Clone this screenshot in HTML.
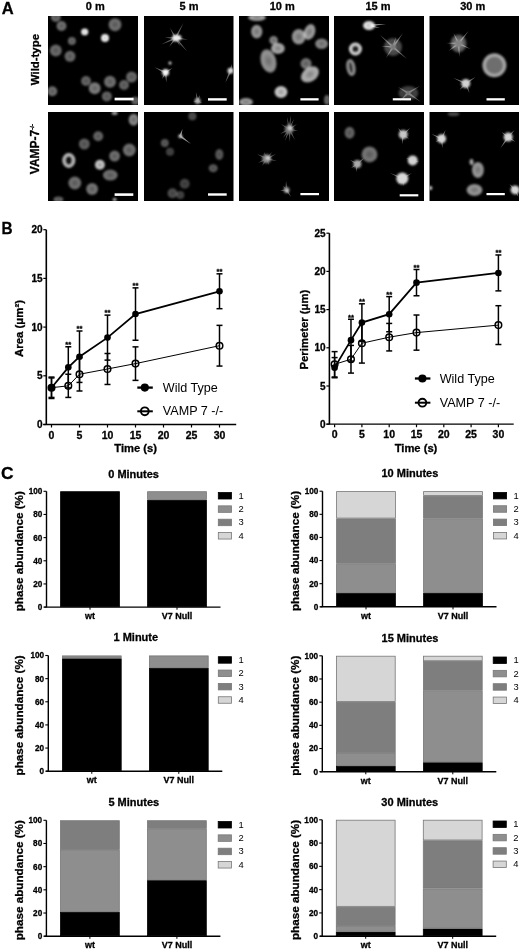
<!DOCTYPE html>
<html><head><meta charset="utf-8"><title>Figure</title>
<style>
html,body{margin:0;padding:0;background:#fff;}
body{width:520px;height:949px;overflow:hidden;font-family:"Liberation Sans",sans-serif;}
svg.fig{display:block;position:absolute;left:0;top:0;will-change:transform;}
svg.fig text{font-family:"Liberation Sans",sans-serif;}
text[font-weight="bold"]{stroke:#000;stroke-width:0.3px;}
</style></head>
<body>
<svg class="fig" width="520" height="949" viewBox="0 0 520 949">
<text transform="translate(1.7,13.7)" font-size="16.5" font-weight="bold" >A</text>
<text x="95.2" y="9.7" font-size="11" font-weight="bold" text-anchor="middle" >0 m</text>
<text x="189" y="9.7" font-size="11" font-weight="bold" text-anchor="middle" >5 m</text>
<text x="282.2" y="9.7" font-size="11" font-weight="bold" text-anchor="middle" >10 m</text>
<text x="378" y="9.7" font-size="11" font-weight="bold" text-anchor="middle" >15 m</text>
<text x="472.7" y="9.7" font-size="11" font-weight="bold" text-anchor="middle" >30 m</text>
<text transform="translate(38.9,59.6) rotate(-90)" font-size="11.4" font-weight="bold" text-anchor="middle" >Wild-type</text>
<text transform="translate(39.1,174.2) rotate(-90)" font-size="12" font-weight="bold" >VAMP-7<tspan font-size="6" dy="-5">-/-</tspan></text>
<defs><radialGradient id="cg"><stop offset="0" stop-color="#fff" stop-opacity="0.72"/><stop offset="0.7" stop-color="#fff" stop-opacity="1"/><stop offset="1" stop-color="#fff" stop-opacity="0.85"/></radialGradient><filter id="bl" x="-50%" y="-50%" width="200%" height="200%"><feGaussianBlur stdDeviation="1.2"/></filter><filter id="bl2" x="-50%" y="-50%" width="200%" height="200%"><feGaussianBlur stdDeviation="0.5"/></filter></defs>
<g transform="translate(48,16)">
<rect x="0" y="0" width="90" height="89" fill="#000"/>
<svg x="0" y="0" width="90" height="89" overflow="hidden">
<g filter="url(#bl)">
<ellipse cx="7.8" cy="0.9" rx="5" ry="5" fill="url(#cg)" opacity="0.43"/>
<ellipse cx="13.5" cy="10" rx="5" ry="5" fill="url(#cg)" opacity="0.45"/>
<ellipse cx="36.7" cy="15.9" rx="3.6" ry="3.4" fill="url(#cg)" opacity="1"/>
<ellipse cx="67" cy="8.7" rx="6.5" ry="6.5" fill="url(#cg)" opacity="0.45"/>
<ellipse cx="57" cy="22" rx="4" ry="4" fill="url(#cg)" opacity="1"/>
<ellipse cx="23.9" cy="25" rx="4" ry="4" fill="url(#cg)" opacity="0.43"/>
<ellipse cx="7.8" cy="34.6" rx="6" ry="6" fill="url(#cg)" opacity="0.43"/>
<ellipse cx="22" cy="40.3" rx="5.5" ry="5.5" fill="url(#cg)" opacity="0.43"/>
<ellipse cx="38" cy="65" rx="5" ry="5" fill="url(#cg)" opacity="0.41"/>
<ellipse cx="46.7" cy="72.3" rx="6" ry="6" fill="url(#cg)" opacity="0.5"/>
<ellipse cx="62" cy="65.7" rx="6" ry="6" fill="url(#cg)" opacity="0.45"/>
<ellipse cx="83.6" cy="61" rx="5.5" ry="5.5" fill="url(#cg)" opacity="0.43"/>
<ellipse cx="76" cy="69" rx="5" ry="5" fill="url(#cg)" opacity="0.41"/>
<ellipse cx="58.8" cy="80.4" rx="5" ry="5" fill="url(#cg)" opacity="0.41"/>
<ellipse cx="4.3" cy="75.3" rx="5" ry="5" fill="url(#cg)" opacity="0.45"/>
<ellipse cx="87.4" cy="84.8" rx="4" ry="4" fill="url(#cg)" opacity="0.41"/>
</g>
</svg>
<rect x="66.6" y="81.7" width="19" height="2.7" fill="#fff"/>
</g>
<g transform="translate(48,112)">
<rect x="0" y="0" width="90" height="89" fill="#000"/>
<svg x="0" y="0" width="90" height="89" overflow="hidden">
<g filter="url(#bl)">
<ellipse cx="66.6" cy="0.9" rx="3" ry="2" fill="url(#cg)" opacity="0.65"/>
<ellipse cx="85.6" cy="7.8" rx="5" ry="6" fill="url(#cg)" opacity="0.54"/>
<ellipse cx="50.2" cy="24.2" rx="5" ry="5" fill="url(#cg)" opacity="0.41"/>
<ellipse cx="36.3" cy="32" rx="5.5" ry="5.5" fill="url(#cg)" opacity="0.39"/>
<ellipse cx="81.3" cy="38" rx="6.5" ry="6.5" fill="url(#cg)" opacity="0.45"/>
<ellipse cx="66.6" cy="44.1" rx="5.5" ry="5.5" fill="url(#cg)" opacity="0.45"/>
<ellipse cx="51.9" cy="52.8" rx="5" ry="5" fill="url(#cg)" opacity="0.8"/>
<ellipse cx="62.3" cy="63.1" rx="7.5" ry="5.5" fill="url(#cg)" opacity="0.45"/>
<ellipse cx="26.8" cy="71" rx="6.5" ry="6.5" fill="url(#cg)" opacity="0.45"/>
<ellipse cx="44.1" cy="77" rx="6" ry="6" fill="url(#cg)" opacity="0.47"/>
<ellipse cx="10.4" cy="87.4" rx="5" ry="3" fill="url(#cg)" opacity="0.41"/>
<ellipse cx="66.6" cy="87.5" rx="2" ry="1.5" fill="url(#cg)" opacity="0.86"/>
<ellipse cx="20.8" cy="48.4" rx="5.0" ry="6.0" fill="#141414" stroke="#bebebe" stroke-width="3"/>
</g>
</svg>
<rect x="66.6" y="81.3" width="18.7" height="2.6" fill="#fff"/>
</g>
<g transform="translate(144,16)">
<rect x="0" y="0" width="89.5" height="89" fill="#000"/>
<svg x="0" y="0" width="89.5" height="89" overflow="hidden">
<polygon points="32.58,22.6 39.4,6.9 30.62,21.6" fill="#5f5f5f" filter="url(#bl2)"/>
<polygon points="30.77,22.82 43.3,35.5 32.43,21.38" fill="#5f5f5f" filter="url(#bl2)"/>
<polygon points="31.49,23.19 44,23.4 31.71,21.01" fill="#5f5f5f" filter="url(#bl2)"/>
<polygon points="31.15,21.1 17.3,28.5 32.05,23.1" fill="#5f5f5f" filter="url(#bl2)"/>
<polygon points="30.72,21.44 25,31 32.48,22.76" fill="#5f5f5f" filter="url(#bl2)"/>
<polygon points="32.56,21.56 26,12.1 30.64,22.64" fill="#5f5f5f" filter="url(#bl2)"/>
<polygon points="31.65,21 20.8,21.6 31.55,23.2" fill="#5f5f5f" filter="url(#bl2)"/>
<polygon points="30.64,22.64 36,30 32.56,21.56" fill="#5f5f5f" filter="url(#bl2)"/>
<polygon points="22.06,55.4 10.4,51.2 21.14,57.4" fill="#696969" filter="url(#bl2)"/>
<polygon points="20.5,56.49 22.5,66.8 22.7,56.31" fill="#696969" filter="url(#bl2)"/>
<polygon points="22.19,57.33 28.5,52 21.01,55.47" fill="#696969" filter="url(#bl2)"/>
<polygon points="21.98,55.37 15,54 21.22,57.43" fill="#696969" filter="url(#bl2)"/>
<polygon points="20.63,55.87 18,63 22.57,56.93" fill="#696969" filter="url(#bl2)"/>
<polygon points="85.49,54.27 81.3,66.8 87.51,55.13" fill="#646464" filter="url(#bl2)"/>
<polygon points="87.57,54.94 88,48 85.43,54.46" fill="#646464" filter="url(#bl2)"/>
<polygon points="54.68,84.79 51.9,76.3 52.52,85.21" fill="#5f5f5f" filter="url(#bl2)"/>
<polygon points="53.35,83.93 49.3,86 53.85,86.07" fill="#5f5f5f" filter="url(#bl2)"/>
<polygon points="53.14,86 58,87 54.06,84" fill="#5f5f5f" filter="url(#bl2)"/>
<polygon points="54.62,85.41 56,79 52.58,84.59" fill="#5f5f5f" filter="url(#bl2)"/>
<g filter="url(#bl)">
<ellipse cx="26" cy="46.9" rx="1.5" ry="1.5" fill="url(#cg)" opacity="1"/>
<ellipse cx="33" cy="21.8" rx="4.5" ry="3" fill="url(#cg)" opacity="0.97"/>
<circle cx="31.6" cy="22.1" r="3.4" fill="#ebebeb"/>
<circle cx="21.6" cy="56.4" r="3.4" fill="#f5f5f5"/>
<circle cx="86.5" cy="54.7" r="3" fill="#d7d7d7"/>
<circle cx="53.6" cy="85" r="3" fill="#afafaf"/>
</g>
</svg>
<rect x="64" y="82.2" width="18.7" height="2.4" fill="#fff"/>
</g>
<g transform="translate(144,112)">
<rect x="0" y="0" width="89.5" height="89" fill="#000"/>
<svg x="0" y="0" width="89.5" height="89" overflow="hidden">
<polygon points="37.35,24.52 38.5,17 35.25,23.88" fill="#969696" filter="url(#bl2)"/>
<polygon points="35.65,25.09 47,32 36.95,23.31" fill="#969696" filter="url(#bl2)"/>
<g filter="url(#bl)">
<ellipse cx="48.4" cy="4.3" rx="4" ry="4" fill="url(#cg)" opacity="0.32"/>
<ellipse cx="20.8" cy="31.1" rx="4" ry="4" fill="url(#cg)" opacity="0.37"/>
<ellipse cx="26" cy="39.8" rx="4" ry="4" fill="url(#cg)" opacity="0.28"/>
<ellipse cx="75.3" cy="42.4" rx="4" ry="5.5" fill="url(#cg)" opacity="0.37"/>
<ellipse cx="69.2" cy="56.2" rx="4.5" ry="4" fill="url(#cg)" opacity="0.37"/>
<ellipse cx="40.7" cy="71.8" rx="5" ry="5" fill="url(#cg)" opacity="0.28"/>
<ellipse cx="28.5" cy="81.3" rx="5" ry="5" fill="url(#cg)" opacity="0.32"/>
<ellipse cx="36.3" cy="83" rx="4" ry="4" fill="url(#cg)" opacity="0.28"/>
<circle cx="36.3" cy="24.2" r="2" fill="#bebebe"/>
</g>
</svg>
<rect x="64" y="81.3" width="18.7" height="2.4" fill="#fff"/>
</g>
<g transform="translate(239,16)">
<rect x="0" y="0" width="90" height="89" fill="#000"/>
<svg x="0" y="0" width="90" height="89" overflow="hidden">
<g filter="url(#bl)">
<ellipse cx="18" cy="1.5" rx="9" ry="3.5" fill="url(#cg)" opacity="0.65"/>
<ellipse cx="17.7" cy="15.6" rx="5.7" ry="6.9" fill="url(#cg)" opacity="0.6"/>
<ellipse cx="34.6" cy="24.2" rx="4.3" ry="4.3" fill="url(#cg)" opacity="0.54"/>
<ellipse cx="38.9" cy="32.4" rx="6.9" ry="5.6" fill="url(#cg)" opacity="0.67"/>
<ellipse cx="29.4" cy="45" rx="7.8" ry="12" fill="url(#cg)" opacity="0.58" transform="rotate(-15 29.4 45)"/>
<ellipse cx="59.7" cy="20.8" rx="6.9" ry="7.8" fill="url(#cg)" opacity="0.6"/>
<ellipse cx="70.5" cy="16" rx="5.6" ry="8.2" fill="url(#cg)" opacity="0.63" transform="rotate(20 70.5 16)"/>
<ellipse cx="82.6" cy="27.7" rx="6.5" ry="5.2" fill="url(#cg)" opacity="0.54"/>
<ellipse cx="67" cy="47.6" rx="5.6" ry="5.6" fill="url(#cg)" opacity="0.47"/>
<ellipse cx="71" cy="58.4" rx="10" ry="7" fill="url(#cg)" opacity="0.69" transform="rotate(-35 71 58.4)"/>
<ellipse cx="42" cy="76" rx="6.5" ry="6" fill="url(#cg)" opacity="0.8"/>
<ellipse cx="7" cy="86" rx="7" ry="4" fill="url(#cg)" opacity="0.63"/>
<ellipse cx="88" cy="84" rx="3" ry="5" fill="url(#cg)" opacity="0.43"/>
</g>
</svg>
<rect x="61.4" y="82.2" width="18.2" height="2.3" fill="#fff"/>
</g>
<g transform="translate(239,112)">
<rect x="0" y="0" width="90" height="89" fill="#000"/>
<svg x="0" y="0" width="90" height="89" overflow="hidden">
<polygon points="50.8,16.38 42,12 49.6,18.22" fill="#555555" filter="url(#bl2)"/>
<polygon points="51.28,17.11 48,5 49.12,17.49" fill="#555555" filter="url(#bl2)"/>
<polygon points="51.2,17.76 55,7 49.2,16.84" fill="#555555" filter="url(#bl2)"/>
<polygon points="49.99,18.38 59,19 50.41,16.22" fill="#555555" filter="url(#bl2)"/>
<polygon points="49.23,17.82 56,28 51.17,16.78" fill="#555555" filter="url(#bl2)"/>
<polygon points="49.16,16.93 46,29 51.24,17.67" fill="#555555" filter="url(#bl2)"/>
<polygon points="49.7,16.32 41,22 50.7,18.28" fill="#555555" filter="url(#bl2)"/>
<polygon points="51.29,17.44 52,3 49.11,17.16" fill="#555555" filter="url(#bl2)"/>
<polygon points="49.3,16.66 44,26 51.1,17.94" fill="#555555" filter="url(#bl2)"/>
<polygon points="49.1,17.37 51,30 51.3,17.23" fill="#555555" filter="url(#bl2)"/>
<polygon points="50.82,18.21 58,12 49.58,16.39" fill="#555555" filter="url(#bl2)"/>
<polygon points="28.18,45.71 18,42 27.22,47.69" fill="#555555" filter="url(#bl2)"/>
<polygon points="27.21,45.71 19,51 28.19,47.69" fill="#555555" filter="url(#bl2)"/>
<polygon points="28.2,47.68 37,42 27.2,45.72" fill="#555555" filter="url(#bl2)"/>
<polygon points="27.46,47.77 38,49 27.94,45.63" fill="#555555" filter="url(#bl2)"/>
<polygon points="26.67,47.08 30,53 28.73,46.32" fill="#555555" filter="url(#bl2)"/>
<polygon points="28.72,46.29 25,40 26.68,47.11" fill="#555555" filter="url(#bl2)"/>
<polygon points="26.78,46.1 23,54 28.62,47.3" fill="#555555" filter="url(#bl2)"/>
<polygon points="28.56,47.38 33,40 26.84,46.02" fill="#555555" filter="url(#bl2)"/>
<polygon points="48.7,77.83 47,69 46.5,77.97" fill="#555555" filter="url(#bl2)"/>
<polygon points="47.42,76.81 41,79 47.78,78.99" fill="#555555" filter="url(#bl2)"/>
<polygon points="46.66,78.48 52,85 48.54,77.32" fill="#555555" filter="url(#bl2)"/>
<polygon points="48.41,77.15 44,74 46.79,78.65" fill="#555555" filter="url(#bl2)"/>
<g filter="url(#bl)">
<circle cx="50.2" cy="17.3" r="4.5" fill="#737373"/>
<circle cx="27.7" cy="46.7" r="4.5" fill="#878787"/>
<circle cx="47.6" cy="77.9" r="3" fill="#8c8c8c"/>
<ellipse cx="29" cy="46" rx="2.2" ry="1.6" fill="url(#cg)" opacity="0.84"/>
<ellipse cx="51" cy="16" rx="2.2" ry="2.2" fill="url(#cg)" opacity="0.75"/>
<ellipse cx="48" cy="79" rx="1.6" ry="1.6" fill="url(#cg)" opacity="0.76"/>
</g>
</svg>
<rect x="61.4" y="81" width="18.6" height="2.2" fill="#fff"/>
</g>
<g transform="translate(334,16)">
<rect x="0" y="0" width="90" height="89" fill="#000"/>
<svg x="0" y="0" width="90" height="89" overflow="hidden">
<polygon points="35.1,10.6 52,8 34.9,8.4" fill="#a0a0a0" filter="url(#bl2)"/>
<polygon points="34.76,10.57 46,12 35.24,8.43" fill="#a0a0a0" filter="url(#bl2)"/>
<polygon points="59.75,30.19 46,19 58.25,31.81" fill="#696969" filter="url(#bl2)"/>
<polygon points="59.9,31.64 69,17 58.1,30.36" fill="#696969" filter="url(#bl2)"/>
<polygon points="58.28,31.84 73,43 59.72,30.16" fill="#696969" filter="url(#bl2)"/>
<polygon points="58.07,30.41 52,42 59.93,31.59" fill="#696969" filter="url(#bl2)"/>
<polygon points="60.05,31.32 62,21 57.95,30.68" fill="#696969" filter="url(#bl2)"/>
<polygon points="59.09,29.9 47,30 58.91,32.1" fill="#696969" filter="url(#bl2)"/>
<polygon points="74.57,76.06 64,71 73.43,77.94" fill="#5a5a5a" filter="url(#bl2)"/>
<polygon points="74.55,77.95 86,70 73.45,76.05" fill="#5a5a5a" filter="url(#bl2)"/>
<polygon points="73.37,77.9 87,86 74.63,76.1" fill="#5a5a5a" filter="url(#bl2)"/>
<polygon points="73.22,76.22 66,85 74.78,77.78" fill="#5a5a5a" filter="url(#bl2)"/>
<g filter="url(#bl)">
<ellipse cx="35" cy="9.5" rx="6" ry="4.5" fill="url(#cg)" opacity="0.93"/>
<ellipse cx="74.4" cy="77" rx="10" ry="7" fill="url(#cg)" opacity="0.26"/>
<ellipse cx="59" cy="31" rx="9" ry="9" fill="url(#cg)" opacity="0.3"/>
<ellipse cx="21.4" cy="33" rx="5.0" ry="5.0" fill="#282828" stroke="#d7d7d7" stroke-width="3"/>
<ellipse cx="16.9" cy="51.5" rx="3.25" ry="7.25" fill="#323232" stroke="#969696" stroke-width="2.5" transform="rotate(-10 16.9 51.5)"/>
<circle cx="35" cy="9.5" r="2" fill="#c8c8c8"/>
<circle cx="59" cy="31" r="3" fill="#787878"/>
<circle cx="74" cy="77" r="2" fill="#6e6e6e"/>
</g>
</svg>
<rect x="58.8" y="82.2" width="18.2" height="2.2" fill="#fff"/>
</g>
<g transform="translate(334,112)">
<rect x="0" y="0" width="90" height="89" fill="#000"/>
<svg x="0" y="0" width="90" height="89" overflow="hidden">
<polygon points="70.06,21.81 64,16 68.34,23.19" fill="#787878" filter="url(#bl2)"/>
<polygon points="69.96,23.3 76,16 68.44,21.7" fill="#787878" filter="url(#bl2)"/>
<polygon points="68.11,22.36 68,32 70.29,22.64" fill="#787878" filter="url(#bl2)"/>
<polygon points="68.53,23.37 75,27 69.87,21.63" fill="#787878" filter="url(#bl2)"/>
<polygon points="23.92,51.03 16,48 22.88,52.97" fill="#6e6e6e" filter="url(#bl2)"/>
<polygon points="24.14,52.81 30,46 22.66,51.19" fill="#6e6e6e" filter="url(#bl2)"/>
<polygon points="22.32,51.81 22,60 24.48,52.19" fill="#6e6e6e" filter="url(#bl2)"/>
<polygon points="22.82,51.07 17,56 23.98,52.93" fill="#6e6e6e" filter="url(#bl2)"/>
<polygon points="79.07,47.36 72,46 78.33,49.44" fill="#646464" filter="url(#bl2)"/>
<polygon points="78.43,49.47 85,50 78.97,47.33" fill="#646464" filter="url(#bl2)"/>
<polygon points="68.76,65.6 56,61 67.84,67.6" fill="#646464" filter="url(#bl2)"/>
<polygon points="68.85,67.55 78,61 67.75,65.65" fill="#646464" filter="url(#bl2)"/>
<polygon points="67.23,66.85 70,74 69.37,66.35" fill="#646464" filter="url(#bl2)"/>
<polygon points="67.44,65.91 64,72 69.16,67.29" fill="#646464" filter="url(#bl2)"/>
<g filter="url(#bl)">
<ellipse cx="15.6" cy="20.8" rx="5" ry="6" fill="url(#cg)" opacity="0.41"/>
<ellipse cx="35.5" cy="42.4" rx="8" ry="8" fill="url(#cg)" opacity="0.47"/>
<circle cx="69.2" cy="22.5" r="4.5" fill="#c8c8c8"/>
<circle cx="23.4" cy="52" r="4" fill="#aaaaaa"/>
<circle cx="78.7" cy="48.4" r="5" fill="#d2d2d2"/>
<circle cx="68.3" cy="66.6" r="6" fill="#d7d7d7"/>
</g>
</svg>
<rect x="65.7" y="82.2" width="18.6" height="2.2" fill="#fff"/>
</g>
<g transform="translate(429.5,16)">
<rect x="0" y="0" width="89.5" height="89" fill="#000"/>
<svg x="0" y="0" width="89.5" height="89" overflow="hidden">
<polygon points="29.05,26.4 17,27 28.95,28.6" fill="#6e6e6e" filter="url(#bl2)"/>
<polygon points="29.86,28.19 39,15 28.14,26.81" fill="#6e6e6e" filter="url(#bl2)"/>
<polygon points="27.9,27.58 30,41 30.1,27.42" fill="#6e6e6e" filter="url(#bl2)"/>
<polygon points="28.54,28.5 41,33 29.46,26.5" fill="#6e6e6e" filter="url(#bl2)"/>
<polygon points="29.99,27.03 24,17 28.01,27.97" fill="#6e6e6e" filter="url(#bl2)"/>
<polygon points="28.34,26.62 19,35 29.66,28.38" fill="#6e6e6e" filter="url(#bl2)"/>
<polygon points="36.75,66.5 24,62 35.85,68.5" fill="#6e6e6e" filter="url(#bl2)"/>
<polygon points="36.91,68.41 46,61 35.69,66.59" fill="#6e6e6e" filter="url(#bl2)"/>
<polygon points="35.27,67.9 40,77 37.33,67.1" fill="#6e6e6e" filter="url(#bl2)"/>
<polygon points="35.51,66.73 30,74 37.09,68.27" fill="#6e6e6e" filter="url(#bl2)"/>
<g filter="url(#bl)">
<ellipse cx="29" cy="27.5" rx="8" ry="9" fill="url(#cg)" opacity="0.37"/>
<ellipse cx="64.9" cy="49.3" rx="10.25" ry="10.25" fill="#6e6e6e" stroke="#a5a5a5" stroke-width="3.5" transform="rotate(-20 64.9 49.3)"/>
<circle cx="29" cy="27.5" r="4" fill="#828282"/>
<circle cx="36.3" cy="67.5" r="4.5" fill="#d2d2d2"/>
</g>
</svg>
<rect x="57" y="82.2" width="18.3" height="2.3" fill="#fff"/>
</g>
<g transform="translate(429.5,112)">
<rect x="0" y="0" width="89.5" height="89" fill="#000"/>
<svg x="0" y="0" width="89.5" height="89" overflow="hidden">
<polygon points="12.57,25.81 2,22 11.63,27.79" fill="#787878" filter="url(#bl2)"/>
<polygon points="13.11,27.25 16,18 11.09,26.35" fill="#787878" filter="url(#bl2)"/>
<polygon points="11.01,26.91 13,36 13.19,26.69" fill="#787878" filter="url(#bl2)"/>
<polygon points="11.59,25.83 6,30 12.61,27.77" fill="#787878" filter="url(#bl2)"/>
<polygon points="79.37,24.22 72,20 78.03,25.98" fill="#787878" filter="url(#bl2)"/>
<polygon points="79.52,25.83 85,18 77.88,24.37" fill="#787878" filter="url(#bl2)"/>
<polygon points="77.8,24.47 71,36 79.6,25.73" fill="#787878" filter="url(#bl2)"/>
<polygon points="78.09,26.01 86,30 79.31,24.19" fill="#787878" filter="url(#bl2)"/>
<polygon points="86.4,77.14 80,72 84.8,78.66" fill="#787878" filter="url(#bl2)"/>
<polygon points="84.61,78.38 89,85 86.59,77.42" fill="#787878" filter="url(#bl2)"/>
<g filter="url(#bl)">
<ellipse cx="48.4" cy="58" rx="6" ry="8" fill="url(#cg)" opacity="0.6"/>
<ellipse cx="45" cy="77.9" rx="8" ry="6" fill="url(#cg)" opacity="0.6"/>
<ellipse cx="24" cy="2" rx="6" ry="2" fill="url(#cg)" opacity="0.32"/>
<ellipse cx="42" cy="50" rx="2" ry="3" fill="url(#cg)" opacity="0.73"/>
<circle cx="12.1" cy="26.8" r="4.5" fill="#d7d7d7"/>
<circle cx="78.7" cy="25.1" r="4.5" fill="#d7d7d7"/>
<circle cx="85.6" cy="77.9" r="4.5" fill="#d7d7d7"/>
<circle cx="0.9" cy="76" r="2" fill="#c8c8c8"/>
</g>
</svg>
<rect x="57" y="81" width="18.3" height="2.2" fill="#fff"/>
</g>
<text transform="translate(1.5,233.6) scale(0.93,1)" font-size="16.5" font-weight="bold" >B</text>
<line x1="46.3" y1="229.7" x2="46.3" y2="424.5" stroke="#000" stroke-width="1.6"/>
<line x1="43.3" y1="424.5" x2="46.3" y2="424.5" stroke="#000" stroke-width="1.2"/>
<text x="42.5" y="428.1" font-size="10" font-weight="bold" text-anchor="end" >0</text>
<line x1="43.3" y1="375.8" x2="46.3" y2="375.8" stroke="#000" stroke-width="1.2"/>
<text x="42.5" y="379.4" font-size="10" font-weight="bold" text-anchor="end" >5</text>
<line x1="43.3" y1="327.1" x2="46.3" y2="327.1" stroke="#000" stroke-width="1.2"/>
<text x="42.5" y="330.7" font-size="10" font-weight="bold" text-anchor="end" >10</text>
<line x1="43.3" y1="278.4" x2="46.3" y2="278.4" stroke="#000" stroke-width="1.2"/>
<text x="42.5" y="282" font-size="10" font-weight="bold" text-anchor="end" >15</text>
<line x1="43.3" y1="229.7" x2="46.3" y2="229.7" stroke="#000" stroke-width="1.2"/>
<text x="42.5" y="233.3" font-size="10" font-weight="bold" text-anchor="end" >20</text>
<line x1="43.3" y1="424.5" x2="236.2" y2="424.5" stroke="#000" stroke-width="1.3"/>
<line x1="51.5" y1="424.5" x2="51.5" y2="427.5" stroke="#000" stroke-width="1.2"/>
<text x="51.5" y="438.7" font-size="10.5" font-weight="bold" text-anchor="middle" >0</text>
<line x1="79.5" y1="424.5" x2="79.5" y2="427.5" stroke="#000" stroke-width="1.2"/>
<text x="79.5" y="438.7" font-size="10.5" font-weight="bold" text-anchor="middle" >5</text>
<line x1="107.5" y1="424.5" x2="107.5" y2="427.5" stroke="#000" stroke-width="1.2"/>
<text x="107.5" y="438.7" font-size="10.5" font-weight="bold" text-anchor="middle" >10</text>
<line x1="135.5" y1="424.5" x2="135.5" y2="427.5" stroke="#000" stroke-width="1.2"/>
<text x="135.5" y="438.7" font-size="10.5" font-weight="bold" text-anchor="middle" >15</text>
<line x1="163.5" y1="424.5" x2="163.5" y2="427.5" stroke="#000" stroke-width="1.2"/>
<text x="163.5" y="438.7" font-size="10.5" font-weight="bold" text-anchor="middle" >20</text>
<line x1="191.5" y1="424.5" x2="191.5" y2="427.5" stroke="#000" stroke-width="1.2"/>
<text x="191.5" y="438.7" font-size="10.5" font-weight="bold" text-anchor="middle" >25</text>
<line x1="219.5" y1="424.5" x2="219.5" y2="427.5" stroke="#000" stroke-width="1.2"/>
<text x="219.5" y="438.7" font-size="10.5" font-weight="bold" text-anchor="middle" >30</text>
<text transform="translate(23.2,328.5) rotate(-90)" font-size="11.4" font-weight="bold" text-anchor="middle" >Area (μm²)</text>
<text x="135.7" y="452.4" font-size="11.2" font-weight="bold" text-anchor="middle" >Time (s)</text>
<line x1="51.5" y1="377.94" x2="51.5" y2="397.42" stroke="#000" stroke-width="1.5"/>
<line x1="48.5" y1="377.94" x2="54.5" y2="377.94" stroke="#000" stroke-width="1.5"/>
<line x1="48.5" y1="397.42" x2="54.5" y2="397.42" stroke="#000" stroke-width="1.5"/>
<line x1="68.3" y1="374.24" x2="68.3" y2="397.42" stroke="#000" stroke-width="1.5"/>
<line x1="65.3" y1="374.24" x2="71.3" y2="374.24" stroke="#000" stroke-width="1.5"/>
<line x1="65.3" y1="397.42" x2="71.3" y2="397.42" stroke="#000" stroke-width="1.5"/>
<line x1="79.5" y1="357.49" x2="79.5" y2="390.99" stroke="#000" stroke-width="1.5"/>
<line x1="76.5" y1="357.49" x2="82.5" y2="357.49" stroke="#000" stroke-width="1.5"/>
<line x1="76.5" y1="390.99" x2="82.5" y2="390.99" stroke="#000" stroke-width="1.5"/>
<line x1="107.5" y1="353.5" x2="107.5" y2="384.47" stroke="#000" stroke-width="1.5"/>
<line x1="104.5" y1="353.5" x2="110.5" y2="353.5" stroke="#000" stroke-width="1.5"/>
<line x1="104.5" y1="384.47" x2="110.5" y2="384.47" stroke="#000" stroke-width="1.5"/>
<line x1="135.5" y1="346.87" x2="135.5" y2="380.38" stroke="#000" stroke-width="1.5"/>
<line x1="132.5" y1="346.87" x2="138.5" y2="346.87" stroke="#000" stroke-width="1.5"/>
<line x1="132.5" y1="380.38" x2="138.5" y2="380.38" stroke="#000" stroke-width="1.5"/>
<line x1="219.5" y1="325.35" x2="219.5" y2="366.06" stroke="#000" stroke-width="1.5"/>
<line x1="216.5" y1="325.35" x2="222.5" y2="325.35" stroke="#000" stroke-width="1.5"/>
<line x1="216.5" y1="366.06" x2="222.5" y2="366.06" stroke="#000" stroke-width="1.5"/>
<line x1="51.5" y1="377.07" x2="51.5" y2="398.49" stroke="#000" stroke-width="1.5"/>
<line x1="48.5" y1="377.07" x2="54.5" y2="377.07" stroke="#000" stroke-width="1.5"/>
<line x1="48.5" y1="398.49" x2="54.5" y2="398.49" stroke="#000" stroke-width="1.5"/>
<line x1="68.3" y1="346.77" x2="68.3" y2="387.88" stroke="#000" stroke-width="1.5"/>
<line x1="65.3" y1="346.77" x2="71.3" y2="346.77" stroke="#000" stroke-width="1.5"/>
<line x1="65.3" y1="387.88" x2="71.3" y2="387.88" stroke="#000" stroke-width="1.5"/>
<line x1="79.5" y1="331" x2="79.5" y2="382.42" stroke="#000" stroke-width="1.5"/>
<line x1="76.5" y1="331" x2="82.5" y2="331" stroke="#000" stroke-width="1.5"/>
<line x1="76.5" y1="382.42" x2="82.5" y2="382.42" stroke="#000" stroke-width="1.5"/>
<line x1="107.5" y1="315.12" x2="107.5" y2="360.12" stroke="#000" stroke-width="1.5"/>
<line x1="104.5" y1="315.12" x2="110.5" y2="315.12" stroke="#000" stroke-width="1.5"/>
<line x1="104.5" y1="360.12" x2="110.5" y2="360.12" stroke="#000" stroke-width="1.5"/>
<line x1="135.5" y1="287.85" x2="135.5" y2="340.25" stroke="#000" stroke-width="1.5"/>
<line x1="132.5" y1="287.85" x2="138.5" y2="287.85" stroke="#000" stroke-width="1.5"/>
<line x1="132.5" y1="340.25" x2="138.5" y2="340.25" stroke="#000" stroke-width="1.5"/>
<line x1="219.5" y1="273.82" x2="219.5" y2="308.69" stroke="#000" stroke-width="1.5"/>
<line x1="216.5" y1="273.82" x2="222.5" y2="273.82" stroke="#000" stroke-width="1.5"/>
<line x1="216.5" y1="308.69" x2="222.5" y2="308.69" stroke="#000" stroke-width="1.5"/>
<polyline points="51.5,387.68 68.3,385.83 79.5,374.24 107.5,368.98 135.5,363.62 219.5,345.7" fill="none" stroke="#000" stroke-width="1"/>
<polyline points="51.5,387.78 68.3,367.33 79.5,356.71 107.5,337.62 135.5,314.05 219.5,291.26" fill="none" stroke="#000" stroke-width="1.8"/>
<circle cx="51.5" cy="387.68" r="3.3" fill="none" stroke="#000" stroke-width="1.5"/>
<circle cx="68.3" cy="385.83" r="3.3" fill="none" stroke="#000" stroke-width="1.5"/>
<circle cx="79.5" cy="374.24" r="3.3" fill="none" stroke="#000" stroke-width="1.5"/>
<circle cx="107.5" cy="368.98" r="3.3" fill="none" stroke="#000" stroke-width="1.5"/>
<circle cx="135.5" cy="363.62" r="3.3" fill="none" stroke="#000" stroke-width="1.5"/>
<circle cx="219.5" cy="345.7" r="3.3" fill="none" stroke="#000" stroke-width="1.5"/>
<circle cx="51.5" cy="387.78" r="3.3" fill="#000"/>
<circle cx="68.3" cy="367.33" r="3.3" fill="#000"/>
<circle cx="79.5" cy="356.71" r="3.3" fill="#000"/>
<circle cx="107.5" cy="337.62" r="3.3" fill="#000"/>
<circle cx="135.5" cy="314.05" r="3.3" fill="#000"/>
<circle cx="219.5" cy="291.26" r="3.3" fill="#000"/>
<text x="68.3" y="347.07" font-size="7.6" font-weight="bold" text-anchor="middle" >**</text>
<text x="79.5" y="331.3" font-size="7.6" font-weight="bold" text-anchor="middle" >**</text>
<text x="107.5" y="315.42" font-size="7.6" font-weight="bold" text-anchor="middle" >**</text>
<text x="135.5" y="288.15" font-size="7.6" font-weight="bold" text-anchor="middle" >**</text>
<text x="219.5" y="274.12" font-size="7.6" font-weight="bold" text-anchor="middle" >**</text>
<line x1="137.3" y1="387.6" x2="152.8" y2="387.6" stroke="#000" stroke-width="2.3"/>
<circle cx="144.8" cy="387.6" r="4.1" fill="#000"/>
<text x="162.8" y="391.70000000000005" font-size="12.6" >Wild Type</text>
<line x1="137.3" y1="411.3" x2="152.8" y2="411.3" stroke="#000" stroke-width="2"/>
<circle cx="144.8" cy="411.3" r="3.9" fill="none" stroke="#000" stroke-width="1.9"/>
<text x="162.8" y="415.40000000000003" font-size="12.6" >VAMP 7 -/-</text>
<line x1="329.4" y1="233.2" x2="329.4" y2="424.2" stroke="#000" stroke-width="1.6"/>
<line x1="326.4" y1="424.2" x2="329.4" y2="424.2" stroke="#000" stroke-width="1.2"/>
<text x="325.59999999999997" y="427.8" font-size="10" font-weight="bold" text-anchor="end" >0</text>
<line x1="326.4" y1="386" x2="329.4" y2="386" stroke="#000" stroke-width="1.2"/>
<text x="325.59999999999997" y="389.6" font-size="10" font-weight="bold" text-anchor="end" >5</text>
<line x1="326.4" y1="347.8" x2="329.4" y2="347.8" stroke="#000" stroke-width="1.2"/>
<text x="325.59999999999997" y="351.4" font-size="10" font-weight="bold" text-anchor="end" >10</text>
<line x1="326.4" y1="309.6" x2="329.4" y2="309.6" stroke="#000" stroke-width="1.2"/>
<text x="325.59999999999997" y="313.2" font-size="10" font-weight="bold" text-anchor="end" >15</text>
<line x1="326.4" y1="271.4" x2="329.4" y2="271.4" stroke="#000" stroke-width="1.2"/>
<text x="325.59999999999997" y="275" font-size="10" font-weight="bold" text-anchor="end" >20</text>
<line x1="326.4" y1="233.2" x2="329.4" y2="233.2" stroke="#000" stroke-width="1.2"/>
<text x="325.59999999999997" y="236.8" font-size="10" font-weight="bold" text-anchor="end" >25</text>
<line x1="326.4" y1="424.2" x2="513.7" y2="424.2" stroke="#000" stroke-width="1.3"/>
<line x1="334.6" y1="424.2" x2="334.6" y2="427.2" stroke="#000" stroke-width="1.2"/>
<text x="334.6" y="438.4" font-size="10.5" font-weight="bold" text-anchor="middle" >0</text>
<line x1="361.9" y1="424.2" x2="361.9" y2="427.2" stroke="#000" stroke-width="1.2"/>
<text x="361.9" y="438.4" font-size="10.5" font-weight="bold" text-anchor="middle" >5</text>
<line x1="389.2" y1="424.2" x2="389.2" y2="427.2" stroke="#000" stroke-width="1.2"/>
<text x="389.2" y="438.4" font-size="10.5" font-weight="bold" text-anchor="middle" >10</text>
<line x1="416.5" y1="424.2" x2="416.5" y2="427.2" stroke="#000" stroke-width="1.2"/>
<text x="416.5" y="438.4" font-size="10.5" font-weight="bold" text-anchor="middle" >15</text>
<line x1="443.8" y1="424.2" x2="443.8" y2="427.2" stroke="#000" stroke-width="1.2"/>
<text x="443.8" y="438.4" font-size="10.5" font-weight="bold" text-anchor="middle" >20</text>
<line x1="471.1" y1="424.2" x2="471.1" y2="427.2" stroke="#000" stroke-width="1.2"/>
<text x="471.1" y="438.4" font-size="10.5" font-weight="bold" text-anchor="middle" >25</text>
<line x1="498.4" y1="424.2" x2="498.4" y2="427.2" stroke="#000" stroke-width="1.2"/>
<text x="498.4" y="438.4" font-size="10.5" font-weight="bold" text-anchor="middle" >30</text>
<text transform="translate(308.1,329.6) rotate(-90)" font-size="11.3" font-weight="bold" text-anchor="middle" >Perimeter (μm)</text>
<text x="416" y="452.09999999999997" font-size="11.2" font-weight="bold" text-anchor="middle" >Time (s)</text>
<line x1="334.6" y1="351.62" x2="334.6" y2="376.98" stroke="#000" stroke-width="1.5"/>
<line x1="331.6" y1="351.62" x2="337.6" y2="351.62" stroke="#000" stroke-width="1.5"/>
<line x1="331.6" y1="376.98" x2="337.6" y2="376.98" stroke="#000" stroke-width="1.5"/>
<line x1="350.98" y1="345.43" x2="350.98" y2="373.09" stroke="#000" stroke-width="1.5"/>
<line x1="347.98" y1="345.43" x2="353.98" y2="345.43" stroke="#000" stroke-width="1.5"/>
<line x1="347.98" y1="373.09" x2="353.98" y2="373.09" stroke="#000" stroke-width="1.5"/>
<line x1="361.9" y1="323.35" x2="361.9" y2="363.08" stroke="#000" stroke-width="1.5"/>
<line x1="358.9" y1="323.35" x2="364.9" y2="323.35" stroke="#000" stroke-width="1.5"/>
<line x1="358.9" y1="363.08" x2="364.9" y2="363.08" stroke="#000" stroke-width="1.5"/>
<line x1="389.2" y1="323.43" x2="389.2" y2="350.93" stroke="#000" stroke-width="1.5"/>
<line x1="386.2" y1="323.43" x2="392.2" y2="323.43" stroke="#000" stroke-width="1.5"/>
<line x1="386.2" y1="350.93" x2="392.2" y2="350.93" stroke="#000" stroke-width="1.5"/>
<line x1="416.5" y1="315.02" x2="416.5" y2="350.17" stroke="#000" stroke-width="1.5"/>
<line x1="413.5" y1="315.02" x2="419.5" y2="315.02" stroke="#000" stroke-width="1.5"/>
<line x1="413.5" y1="350.17" x2="419.5" y2="350.17" stroke="#000" stroke-width="1.5"/>
<line x1="498.4" y1="305.7" x2="498.4" y2="344.51" stroke="#000" stroke-width="1.5"/>
<line x1="495.4" y1="305.7" x2="501.4" y2="305.7" stroke="#000" stroke-width="1.5"/>
<line x1="495.4" y1="344.51" x2="501.4" y2="344.51" stroke="#000" stroke-width="1.5"/>
<line x1="334.6" y1="357.58" x2="334.6" y2="377.75" stroke="#000" stroke-width="1.5"/>
<line x1="331.6" y1="357.58" x2="337.6" y2="357.58" stroke="#000" stroke-width="1.5"/>
<line x1="331.6" y1="377.75" x2="337.6" y2="377.75" stroke="#000" stroke-width="1.5"/>
<line x1="350.98" y1="319.23" x2="350.98" y2="361.09" stroke="#000" stroke-width="1.5"/>
<line x1="347.98" y1="319.23" x2="353.98" y2="319.23" stroke="#000" stroke-width="1.5"/>
<line x1="347.98" y1="361.09" x2="353.98" y2="361.09" stroke="#000" stroke-width="1.5"/>
<line x1="361.9" y1="303.79" x2="361.9" y2="341.38" stroke="#000" stroke-width="1.5"/>
<line x1="358.9" y1="303.79" x2="364.9" y2="303.79" stroke="#000" stroke-width="1.5"/>
<line x1="358.9" y1="341.38" x2="364.9" y2="341.38" stroke="#000" stroke-width="1.5"/>
<line x1="389.2" y1="296.61" x2="389.2" y2="331.76" stroke="#000" stroke-width="1.5"/>
<line x1="386.2" y1="296.61" x2="392.2" y2="296.61" stroke="#000" stroke-width="1.5"/>
<line x1="386.2" y1="331.76" x2="392.2" y2="331.76" stroke="#000" stroke-width="1.5"/>
<line x1="416.5" y1="269.49" x2="416.5" y2="295.77" stroke="#000" stroke-width="1.5"/>
<line x1="413.5" y1="269.49" x2="419.5" y2="269.49" stroke="#000" stroke-width="1.5"/>
<line x1="413.5" y1="295.77" x2="419.5" y2="295.77" stroke="#000" stroke-width="1.5"/>
<line x1="498.4" y1="254.97" x2="498.4" y2="290.88" stroke="#000" stroke-width="1.5"/>
<line x1="495.4" y1="254.97" x2="501.4" y2="254.97" stroke="#000" stroke-width="1.5"/>
<line x1="495.4" y1="290.88" x2="501.4" y2="290.88" stroke="#000" stroke-width="1.5"/>
<polyline points="334.6,364.3 350.98,359.26 361.9,343.22 389.2,337.18 416.5,332.6 498.4,325.11" fill="none" stroke="#000" stroke-width="1"/>
<polyline points="334.6,367.66 350.98,340.16 361.9,322.59 389.2,314.18 416.5,282.63 498.4,272.93" fill="none" stroke="#000" stroke-width="1.8"/>
<circle cx="334.6" cy="364.3" r="3.3" fill="none" stroke="#000" stroke-width="1.5"/>
<circle cx="350.98" cy="359.26" r="3.3" fill="none" stroke="#000" stroke-width="1.5"/>
<circle cx="361.9" cy="343.22" r="3.3" fill="none" stroke="#000" stroke-width="1.5"/>
<circle cx="389.2" cy="337.18" r="3.3" fill="none" stroke="#000" stroke-width="1.5"/>
<circle cx="416.5" cy="332.6" r="3.3" fill="none" stroke="#000" stroke-width="1.5"/>
<circle cx="498.4" cy="325.11" r="3.3" fill="none" stroke="#000" stroke-width="1.5"/>
<circle cx="334.6" cy="367.66" r="3.3" fill="#000"/>
<circle cx="350.98" cy="340.16" r="3.3" fill="#000"/>
<circle cx="361.9" cy="322.59" r="3.3" fill="#000"/>
<circle cx="389.2" cy="314.18" r="3.3" fill="#000"/>
<circle cx="416.5" cy="282.63" r="3.3" fill="#000"/>
<circle cx="498.4" cy="272.93" r="3.3" fill="#000"/>
<text x="350.98" y="319.53" font-size="7.6" font-weight="bold" text-anchor="middle" >**</text>
<text x="361.9" y="304.09" font-size="7.6" font-weight="bold" text-anchor="middle" >**</text>
<text x="389.2" y="296.91" font-size="7.6" font-weight="bold" text-anchor="middle" >**</text>
<text x="416.5" y="269.79" font-size="7.6" font-weight="bold" text-anchor="middle" >**</text>
<text x="498.4" y="255.27" font-size="7.6" font-weight="bold" text-anchor="middle" >**</text>
<line x1="414.9" y1="378.5" x2="430.4" y2="378.5" stroke="#000" stroke-width="2.3"/>
<circle cx="422.4" cy="378.5" r="4.1" fill="#000"/>
<text x="439.7" y="382.6" font-size="12.6" >Wild Type</text>
<line x1="414.9" y1="402.7" x2="430.4" y2="402.7" stroke="#000" stroke-width="2"/>
<circle cx="422.4" cy="402.7" r="3.9" fill="none" stroke="#000" stroke-width="1.9"/>
<text x="439.7" y="406.8" font-size="12.6" >VAMP 7 -/-</text>
<text transform="translate(1.1,479.4)" font-size="17.4" font-weight="bold" >C</text>
<text x="133.6" y="477.5" font-size="11" font-weight="bold" text-anchor="middle" >0 Minutes</text>
<rect x="60.6" y="491.7" width="58.8" height="115" fill="#000" stroke="#000" stroke-width="0.8"/>
<rect x="147.6" y="500.38" width="58.8" height="106.32" fill="#000" stroke="#000" stroke-width="0.8"/>
<rect x="147.6" y="491.7" width="58.8" height="7.89" fill="#8e8e8e" stroke="#777" stroke-width="0.8"/>
<line x1="46.5" y1="491.3" x2="46.5" y2="607.1" stroke="#000" stroke-width="1.4"/>
<line x1="43.5" y1="607.1" x2="46.5" y2="607.1" stroke="#000" stroke-width="1.1"/>
<text x="42.3" y="610" font-size="8.2" font-weight="bold" text-anchor="end" >0</text>
<line x1="43.5" y1="583.94" x2="46.5" y2="583.94" stroke="#000" stroke-width="1.1"/>
<text x="42.3" y="586.84" font-size="8.2" font-weight="bold" text-anchor="end" >20</text>
<line x1="43.5" y1="560.78" x2="46.5" y2="560.78" stroke="#000" stroke-width="1.1"/>
<text x="42.3" y="563.68" font-size="8.2" font-weight="bold" text-anchor="end" >40</text>
<line x1="43.5" y1="537.62" x2="46.5" y2="537.62" stroke="#000" stroke-width="1.1"/>
<text x="42.3" y="540.52" font-size="8.2" font-weight="bold" text-anchor="end" >60</text>
<line x1="43.5" y1="514.46" x2="46.5" y2="514.46" stroke="#000" stroke-width="1.1"/>
<text x="42.3" y="517.36" font-size="8.2" font-weight="bold" text-anchor="end" >80</text>
<line x1="43.5" y1="491.3" x2="46.5" y2="491.3" stroke="#000" stroke-width="1.1"/>
<text x="42.3" y="494.2" font-size="8.2" font-weight="bold" text-anchor="end" >100</text>
<line x1="44.3" y1="607.1" x2="220.5" y2="607.1" stroke="#000" stroke-width="1.4"/>
<line x1="90.0" y1="607.1" x2="90.0" y2="609.7" stroke="#000" stroke-width="1"/>
<text x="90.0" y="618.9" font-size="9" font-weight="bold" text-anchor="middle" >wt</text>
<line x1="177.0" y1="607.1" x2="177.0" y2="609.7" stroke="#000" stroke-width="1"/>
<text x="177.0" y="618.9" font-size="9" font-weight="bold" text-anchor="middle" >V7 Null</text>
<text transform="translate(23.1,551.2) rotate(-90)" font-size="11.7" font-weight="bold" text-anchor="middle" >phase abundance (%)</text>
<rect x="218.3" y="492.5" width="13.2" height="6.5" fill="#000" stroke="#000" stroke-width="0.8"/>
<text x="238.5" y="498.7" font-size="9.4" >1</text>
<rect x="218.3" y="505.85" width="13.2" height="6.5" fill="#8e8e8e" stroke="#777" stroke-width="0.8"/>
<text x="238.5" y="512.05" font-size="9.4" >2</text>
<rect x="218.3" y="519.2" width="13.2" height="6.5" fill="#7e7e7e" stroke="#777" stroke-width="0.8"/>
<text x="238.5" y="525.4" font-size="9.4" >3</text>
<rect x="218.3" y="532.55" width="13.2" height="6.5" fill="#d6d6d6" stroke="#777" stroke-width="0.8"/>
<text x="238.5" y="538.75" font-size="9.4" >4</text>
<text x="135.8" y="641.3" font-size="11" font-weight="bold" text-anchor="middle" >1 Minute</text>
<rect x="62.4" y="658.79" width="58.8" height="112.01" fill="#000" stroke="#000" stroke-width="0.8"/>
<rect x="62.4" y="655.9" width="58.8" height="2.09" fill="#8e8e8e" stroke="#777" stroke-width="0.8"/>
<rect x="149.4" y="668.28" width="58.8" height="102.52" fill="#000" stroke="#000" stroke-width="0.8"/>
<rect x="149.4" y="655.9" width="58.8" height="11.58" fill="#8e8e8e" stroke="#777" stroke-width="0.8"/>
<line x1="48.3" y1="655.5" x2="48.3" y2="771.2" stroke="#000" stroke-width="1.4"/>
<line x1="45.3" y1="771.2" x2="48.3" y2="771.2" stroke="#000" stroke-width="1.1"/>
<text x="44.099999999999994" y="774.1" font-size="8.2" font-weight="bold" text-anchor="end" >0</text>
<line x1="45.3" y1="748.06" x2="48.3" y2="748.06" stroke="#000" stroke-width="1.1"/>
<text x="44.099999999999994" y="750.96" font-size="8.2" font-weight="bold" text-anchor="end" >20</text>
<line x1="45.3" y1="724.92" x2="48.3" y2="724.92" stroke="#000" stroke-width="1.1"/>
<text x="44.099999999999994" y="727.82" font-size="8.2" font-weight="bold" text-anchor="end" >40</text>
<line x1="45.3" y1="701.78" x2="48.3" y2="701.78" stroke="#000" stroke-width="1.1"/>
<text x="44.099999999999994" y="704.68" font-size="8.2" font-weight="bold" text-anchor="end" >60</text>
<line x1="45.3" y1="678.64" x2="48.3" y2="678.64" stroke="#000" stroke-width="1.1"/>
<text x="44.099999999999994" y="681.54" font-size="8.2" font-weight="bold" text-anchor="end" >80</text>
<line x1="45.3" y1="655.5" x2="48.3" y2="655.5" stroke="#000" stroke-width="1.1"/>
<text x="44.099999999999994" y="658.4" font-size="8.2" font-weight="bold" text-anchor="end" >100</text>
<line x1="46.099999999999994" y1="771.2" x2="222.3" y2="771.2" stroke="#000" stroke-width="1.4"/>
<line x1="91.8" y1="771.2" x2="91.8" y2="773.8" stroke="#000" stroke-width="1"/>
<text x="91.8" y="783" font-size="9" font-weight="bold" text-anchor="middle" >wt</text>
<line x1="178.8" y1="771.2" x2="178.8" y2="773.8" stroke="#000" stroke-width="1"/>
<text x="178.8" y="783" font-size="9" font-weight="bold" text-anchor="middle" >V7 Null</text>
<text transform="translate(23.1,715.35) rotate(-90)" font-size="11.7" font-weight="bold" text-anchor="middle" >phase abundance (%)</text>
<rect x="218.3" y="656.7" width="13.2" height="6.5" fill="#000" stroke="#000" stroke-width="0.8"/>
<text x="238.5" y="662.9" font-size="9.4" >1</text>
<rect x="218.3" y="670.05" width="13.2" height="6.5" fill="#8e8e8e" stroke="#777" stroke-width="0.8"/>
<text x="238.5" y="676.25" font-size="9.4" >2</text>
<rect x="218.3" y="683.4" width="13.2" height="6.5" fill="#7e7e7e" stroke="#777" stroke-width="0.8"/>
<text x="238.5" y="689.6" font-size="9.4" >3</text>
<rect x="218.3" y="696.75" width="13.2" height="6.5" fill="#d6d6d6" stroke="#777" stroke-width="0.8"/>
<text x="238.5" y="702.95" font-size="9.4" >4</text>
<text x="133.8" y="806.3" font-size="11" font-weight="bold" text-anchor="middle" >5 Minutes</text>
<rect x="60.5" y="912.26" width="58.8" height="23.54" fill="#000" stroke="#000" stroke-width="0.8"/>
<rect x="60.5" y="850.25" width="58.8" height="61.21" fill="#8e8e8e" stroke="#777" stroke-width="0.8"/>
<rect x="60.5" y="820.7" width="58.8" height="28.75" fill="#7e7e7e" stroke="#777" stroke-width="0.8"/>
<rect x="147.5" y="880.62" width="58.8" height="55.18" fill="#000" stroke="#000" stroke-width="0.8"/>
<rect x="147.5" y="829.16" width="58.8" height="50.66" fill="#8e8e8e" stroke="#777" stroke-width="0.8"/>
<rect x="147.5" y="820.7" width="58.8" height="7.66" fill="#7e7e7e" stroke="#777" stroke-width="0.8"/>
<line x1="46.4" y1="820.3" x2="46.4" y2="936.2" stroke="#000" stroke-width="1.4"/>
<line x1="43.4" y1="936.2" x2="46.4" y2="936.2" stroke="#000" stroke-width="1.1"/>
<text x="42.199999999999996" y="939.1" font-size="8.2" font-weight="bold" text-anchor="end" >0</text>
<line x1="43.4" y1="913.02" x2="46.4" y2="913.02" stroke="#000" stroke-width="1.1"/>
<text x="42.199999999999996" y="915.92" font-size="8.2" font-weight="bold" text-anchor="end" >20</text>
<line x1="43.4" y1="889.84" x2="46.4" y2="889.84" stroke="#000" stroke-width="1.1"/>
<text x="42.199999999999996" y="892.74" font-size="8.2" font-weight="bold" text-anchor="end" >40</text>
<line x1="43.4" y1="866.66" x2="46.4" y2="866.66" stroke="#000" stroke-width="1.1"/>
<text x="42.199999999999996" y="869.56" font-size="8.2" font-weight="bold" text-anchor="end" >60</text>
<line x1="43.4" y1="843.48" x2="46.4" y2="843.48" stroke="#000" stroke-width="1.1"/>
<text x="42.199999999999996" y="846.38" font-size="8.2" font-weight="bold" text-anchor="end" >80</text>
<line x1="43.4" y1="820.3" x2="46.4" y2="820.3" stroke="#000" stroke-width="1.1"/>
<text x="42.199999999999996" y="823.2" font-size="8.2" font-weight="bold" text-anchor="end" >100</text>
<line x1="44.199999999999996" y1="936.2" x2="220.4" y2="936.2" stroke="#000" stroke-width="1.4"/>
<line x1="89.9" y1="936.2" x2="89.9" y2="938.8" stroke="#000" stroke-width="1"/>
<text x="89.9" y="948" font-size="9" font-weight="bold" text-anchor="middle" >wt</text>
<line x1="176.9" y1="936.2" x2="176.9" y2="938.8" stroke="#000" stroke-width="1"/>
<text x="176.9" y="948" font-size="9" font-weight="bold" text-anchor="middle" >V7 Null</text>
<text transform="translate(23,880.25) rotate(-90)" font-size="11.7" font-weight="bold" text-anchor="middle" >phase abundance (%)</text>
<rect x="218.2" y="821.5" width="13.2" height="6.5" fill="#000" stroke="#000" stroke-width="0.8"/>
<text x="238.4" y="827.7" font-size="9.4" >1</text>
<rect x="218.2" y="834.85" width="13.2" height="6.5" fill="#8e8e8e" stroke="#777" stroke-width="0.8"/>
<text x="238.4" y="841.05" font-size="9.4" >2</text>
<rect x="218.2" y="848.2" width="13.2" height="6.5" fill="#7e7e7e" stroke="#777" stroke-width="0.8"/>
<text x="238.4" y="854.4" font-size="9.4" >3</text>
<rect x="218.2" y="861.55" width="13.2" height="6.5" fill="#d6d6d6" stroke="#777" stroke-width="0.8"/>
<text x="238.4" y="867.75" font-size="9.4" >4</text>
<text x="409.9" y="477.3" font-size="11" font-weight="bold" text-anchor="middle" >10 Minutes</text>
<rect x="336.6" y="593.44" width="58.8" height="12.96" fill="#000" stroke="#000" stroke-width="0.8"/>
<rect x="336.6" y="563.73" width="58.8" height="28.91" fill="#8e8e8e" stroke="#777" stroke-width="0.8"/>
<rect x="336.6" y="518.88" width="58.8" height="44.05" fill="#7e7e7e" stroke="#777" stroke-width="0.8"/>
<rect x="336.6" y="491.6" width="58.8" height="26.48" fill="#d6d6d6" stroke="#777" stroke-width="0.8"/>
<rect x="423.6" y="593.33" width="58.8" height="13.07" fill="#000" stroke="#000" stroke-width="0.8"/>
<rect x="423.6" y="518.77" width="58.8" height="73.76" fill="#8e8e8e" stroke="#777" stroke-width="0.8"/>
<rect x="423.6" y="496.22" width="58.8" height="21.74" fill="#7e7e7e" stroke="#777" stroke-width="0.8"/>
<rect x="423.6" y="491.6" width="58.8" height="3.82" fill="#d6d6d6" stroke="#777" stroke-width="0.8"/>
<line x1="322.5" y1="491.2" x2="322.5" y2="606.8" stroke="#000" stroke-width="1.4"/>
<line x1="319.5" y1="606.8" x2="322.5" y2="606.8" stroke="#000" stroke-width="1.1"/>
<text x="318.3" y="609.7" font-size="8.2" font-weight="bold" text-anchor="end" >0</text>
<line x1="319.5" y1="583.68" x2="322.5" y2="583.68" stroke="#000" stroke-width="1.1"/>
<text x="318.3" y="586.58" font-size="8.2" font-weight="bold" text-anchor="end" >20</text>
<line x1="319.5" y1="560.56" x2="322.5" y2="560.56" stroke="#000" stroke-width="1.1"/>
<text x="318.3" y="563.46" font-size="8.2" font-weight="bold" text-anchor="end" >40</text>
<line x1="319.5" y1="537.44" x2="322.5" y2="537.44" stroke="#000" stroke-width="1.1"/>
<text x="318.3" y="540.34" font-size="8.2" font-weight="bold" text-anchor="end" >60</text>
<line x1="319.5" y1="514.32" x2="322.5" y2="514.32" stroke="#000" stroke-width="1.1"/>
<text x="318.3" y="517.22" font-size="8.2" font-weight="bold" text-anchor="end" >80</text>
<line x1="319.5" y1="491.2" x2="322.5" y2="491.2" stroke="#000" stroke-width="1.1"/>
<text x="318.3" y="494.1" font-size="8.2" font-weight="bold" text-anchor="end" >100</text>
<line x1="320.3" y1="606.8" x2="496.5" y2="606.8" stroke="#000" stroke-width="1.4"/>
<line x1="366.0" y1="606.8" x2="366.0" y2="609.4" stroke="#000" stroke-width="1"/>
<text x="366.0" y="618.6" font-size="9" font-weight="bold" text-anchor="middle" >wt</text>
<line x1="453.0" y1="606.8" x2="453.0" y2="609.4" stroke="#000" stroke-width="1"/>
<text x="453.0" y="618.6" font-size="9" font-weight="bold" text-anchor="middle" >V7 Null</text>
<text transform="translate(299.1,551) rotate(-90)" font-size="11.7" font-weight="bold" text-anchor="middle" >phase abundance (%)</text>
<rect x="493.4" y="492.4" width="13.2" height="6.5" fill="#000" stroke="#000" stroke-width="0.8"/>
<text x="513.6" y="498.6" font-size="9.4" >1</text>
<rect x="493.4" y="505.75" width="13.2" height="6.5" fill="#8e8e8e" stroke="#777" stroke-width="0.8"/>
<text x="513.6" y="511.95" font-size="9.4" >2</text>
<rect x="493.4" y="519.1" width="13.2" height="6.5" fill="#7e7e7e" stroke="#777" stroke-width="0.8"/>
<text x="513.6" y="525.3" font-size="9.4" >3</text>
<rect x="493.4" y="532.45" width="13.2" height="6.5" fill="#d6d6d6" stroke="#777" stroke-width="0.8"/>
<text x="513.6" y="538.65" font-size="9.4" >4</text>
<text x="410" y="641.6" font-size="11" font-weight="bold" text-anchor="middle" >15 Minutes</text>
<rect x="336.4" y="766.42" width="58.8" height="4.88" fill="#000" stroke="#000" stroke-width="0.8"/>
<rect x="336.4" y="753.56" width="58.8" height="12.06" fill="#8e8e8e" stroke="#777" stroke-width="0.8"/>
<rect x="336.4" y="702.33" width="58.8" height="50.43" fill="#7e7e7e" stroke="#777" stroke-width="0.8"/>
<rect x="336.4" y="656.2" width="58.8" height="45.33" fill="#d6d6d6" stroke="#777" stroke-width="0.8"/>
<rect x="423.4" y="762.71" width="58.8" height="8.59" fill="#000" stroke="#000" stroke-width="0.8"/>
<rect x="423.4" y="690.74" width="58.8" height="71.17" fill="#8e8e8e" stroke="#777" stroke-width="0.8"/>
<rect x="423.4" y="661.53" width="58.8" height="28.41" fill="#7e7e7e" stroke="#777" stroke-width="0.8"/>
<rect x="423.4" y="656.2" width="58.8" height="4.53" fill="#d6d6d6" stroke="#777" stroke-width="0.8"/>
<line x1="322.3" y1="655.8" x2="322.3" y2="771.7" stroke="#000" stroke-width="1.4"/>
<line x1="319.3" y1="771.7" x2="322.3" y2="771.7" stroke="#000" stroke-width="1.1"/>
<text x="318.1" y="774.6" font-size="8.2" font-weight="bold" text-anchor="end" >0</text>
<line x1="319.3" y1="748.52" x2="322.3" y2="748.52" stroke="#000" stroke-width="1.1"/>
<text x="318.1" y="751.42" font-size="8.2" font-weight="bold" text-anchor="end" >20</text>
<line x1="319.3" y1="725.34" x2="322.3" y2="725.34" stroke="#000" stroke-width="1.1"/>
<text x="318.1" y="728.24" font-size="8.2" font-weight="bold" text-anchor="end" >40</text>
<line x1="319.3" y1="702.16" x2="322.3" y2="702.16" stroke="#000" stroke-width="1.1"/>
<text x="318.1" y="705.06" font-size="8.2" font-weight="bold" text-anchor="end" >60</text>
<line x1="319.3" y1="678.98" x2="322.3" y2="678.98" stroke="#000" stroke-width="1.1"/>
<text x="318.1" y="681.88" font-size="8.2" font-weight="bold" text-anchor="end" >80</text>
<line x1="319.3" y1="655.8" x2="322.3" y2="655.8" stroke="#000" stroke-width="1.1"/>
<text x="318.1" y="658.7" font-size="8.2" font-weight="bold" text-anchor="end" >100</text>
<line x1="320.1" y1="771.7" x2="496.3" y2="771.7" stroke="#000" stroke-width="1.4"/>
<line x1="365.8" y1="771.7" x2="365.8" y2="774.3" stroke="#000" stroke-width="1"/>
<text x="365.8" y="783.5" font-size="9" font-weight="bold" text-anchor="middle" >wt</text>
<line x1="452.8" y1="771.7" x2="452.8" y2="774.3" stroke="#000" stroke-width="1"/>
<text x="452.8" y="783.5" font-size="9" font-weight="bold" text-anchor="middle" >V7 Null</text>
<text transform="translate(298.9,715.75) rotate(-90)" font-size="11.7" font-weight="bold" text-anchor="middle" >phase abundance (%)</text>
<rect x="493.2" y="657" width="13.2" height="6.5" fill="#000" stroke="#000" stroke-width="0.8"/>
<text x="513.4" y="663.2" font-size="9.4" >1</text>
<rect x="493.2" y="670.35" width="13.2" height="6.5" fill="#8e8e8e" stroke="#777" stroke-width="0.8"/>
<text x="513.4" y="676.55" font-size="9.4" >2</text>
<rect x="493.2" y="683.7" width="13.2" height="6.5" fill="#7e7e7e" stroke="#777" stroke-width="0.8"/>
<text x="513.4" y="689.9" font-size="9.4" >3</text>
<rect x="493.2" y="697.05" width="13.2" height="6.5" fill="#d6d6d6" stroke="#777" stroke-width="0.8"/>
<text x="513.4" y="703.25" font-size="9.4" >4</text>
<text x="409.8" y="806.3" font-size="11" font-weight="bold" text-anchor="middle" >30 Minutes</text>
<rect x="336.3" y="932.06" width="58.8" height="3.74" fill="#000" stroke="#000" stroke-width="0.8"/>
<rect x="336.3" y="926.36" width="58.8" height="4.9" fill="#8e8e8e" stroke="#777" stroke-width="0.8"/>
<rect x="336.3" y="907.15" width="58.8" height="18.41" fill="#7e7e7e" stroke="#777" stroke-width="0.8"/>
<rect x="336.3" y="820.2" width="58.8" height="86.15" fill="#d6d6d6" stroke="#777" stroke-width="0.8"/>
<rect x="423.3" y="928.92" width="58.8" height="6.88" fill="#000" stroke="#000" stroke-width="0.8"/>
<rect x="423.3" y="888.88" width="58.8" height="39.24" fill="#8e8e8e" stroke="#777" stroke-width="0.8"/>
<rect x="423.3" y="840.8" width="58.8" height="47.27" fill="#7e7e7e" stroke="#777" stroke-width="0.8"/>
<rect x="423.3" y="820.2" width="58.8" height="19.8" fill="#d6d6d6" stroke="#777" stroke-width="0.8"/>
<line x1="322.2" y1="819.8" x2="322.2" y2="936.2" stroke="#000" stroke-width="1.4"/>
<line x1="319.2" y1="936.2" x2="322.2" y2="936.2" stroke="#000" stroke-width="1.1"/>
<text x="318.0" y="939.1" font-size="8.2" font-weight="bold" text-anchor="end" >0</text>
<line x1="319.2" y1="912.92" x2="322.2" y2="912.92" stroke="#000" stroke-width="1.1"/>
<text x="318.0" y="915.82" font-size="8.2" font-weight="bold" text-anchor="end" >20</text>
<line x1="319.2" y1="889.64" x2="322.2" y2="889.64" stroke="#000" stroke-width="1.1"/>
<text x="318.0" y="892.54" font-size="8.2" font-weight="bold" text-anchor="end" >40</text>
<line x1="319.2" y1="866.36" x2="322.2" y2="866.36" stroke="#000" stroke-width="1.1"/>
<text x="318.0" y="869.26" font-size="8.2" font-weight="bold" text-anchor="end" >60</text>
<line x1="319.2" y1="843.08" x2="322.2" y2="843.08" stroke="#000" stroke-width="1.1"/>
<text x="318.0" y="845.98" font-size="8.2" font-weight="bold" text-anchor="end" >80</text>
<line x1="319.2" y1="819.8" x2="322.2" y2="819.8" stroke="#000" stroke-width="1.1"/>
<text x="318.0" y="822.7" font-size="8.2" font-weight="bold" text-anchor="end" >100</text>
<line x1="320.0" y1="936.2" x2="496.2" y2="936.2" stroke="#000" stroke-width="1.4"/>
<line x1="365.7" y1="936.2" x2="365.7" y2="938.8" stroke="#000" stroke-width="1"/>
<text x="365.7" y="948" font-size="9" font-weight="bold" text-anchor="middle" >wt</text>
<line x1="452.7" y1="936.2" x2="452.7" y2="938.8" stroke="#000" stroke-width="1"/>
<text x="452.7" y="948" font-size="9" font-weight="bold" text-anchor="middle" >V7 Null</text>
<text transform="translate(298.8,880) rotate(-90)" font-size="11.7" font-weight="bold" text-anchor="middle" >phase abundance (%)</text>
<rect x="493.1" y="821" width="13.2" height="6.5" fill="#000" stroke="#000" stroke-width="0.8"/>
<text x="513.3" y="827.2" font-size="9.4" >1</text>
<rect x="493.1" y="834.35" width="13.2" height="6.5" fill="#8e8e8e" stroke="#777" stroke-width="0.8"/>
<text x="513.3" y="840.55" font-size="9.4" >2</text>
<rect x="493.1" y="847.7" width="13.2" height="6.5" fill="#7e7e7e" stroke="#777" stroke-width="0.8"/>
<text x="513.3" y="853.9" font-size="9.4" >3</text>
<rect x="493.1" y="861.05" width="13.2" height="6.5" fill="#d6d6d6" stroke="#777" stroke-width="0.8"/>
<text x="513.3" y="867.25" font-size="9.4" >4</text>
</svg>
</body></html>
